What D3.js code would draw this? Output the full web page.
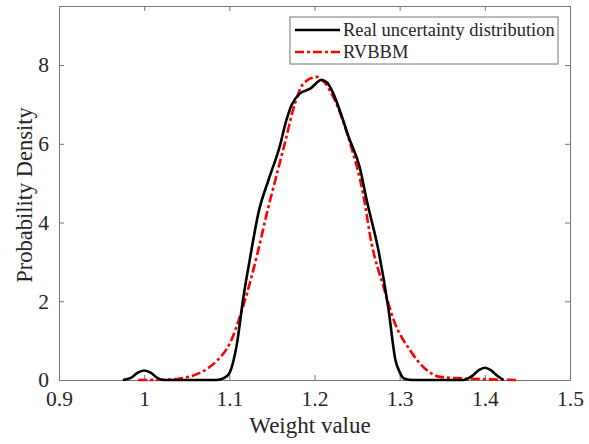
<!DOCTYPE html>
<html>
<head>
<meta charset="utf-8">
<script src="https://cdn.jsdelivr.net/npm/d3@7"></script>
<style>
  body { margin: 0; background: #fff; }
  svg { display: block; }
  svg text { font-family: "Liberation Serif", "Times New Roman", serif; }
</style>
</head>
<body>
<div id="plot"></div>
<script>
// data
const realX = [0.975, 0.985, 0.992, 1.0, 1.008, 1.015, 1.022, 1.085, 1.093, 1.1, 1.105, 1.109, 1.116, 1.126, 1.134,
  1.146, 1.159, 1.167, 1.173, 1.183, 1.195, 1.208, 1.215, 1.222, 1.232, 1.24, 1.253, 1.262, 1.275, 1.287, 1.295,
  1.3, 1.305, 1.316, 1.375, 1.385, 1.393, 1.4, 1.407, 1.415, 1.422];
const realY = [0, 0.06, 0.18, 0.24, 0.18, 0.06, 0, 0, 0.04, 0.17, 0.5, 0.93, 2.03, 3.3, 4.23,
  5.08, 5.92, 6.6, 6.98, 7.28, 7.4, 7.62, 7.55, 7.28, 6.7, 6.18, 5.41, 4.5, 3.3, 1.78, 0.51,
  0.2, 0.04, 0, 0, 0.1, 0.25, 0.31, 0.25, 0.1, 0];
const rvbbmX = [0.993, 1.02, 1.042, 1.062, 1.075, 1.085, 1.101, 1.116, 1.134, 1.144, 1.154, 1.165, 1.177, 1.187,
  1.2025, 1.212, 1.222, 1.242, 1.257, 1.267, 1.281, 1.293, 1.312, 1.332, 1.347, 1.375, 1.4, 1.439];
const rvbbmY = [0, 0.005, 0.04, 0.15, 0.3, 0.48, 0.95, 1.86, 3.3, 4.23, 5.08, 6.0, 7.02, 7.53,
  7.7, 7.55, 7.19, 6.0, 4.74, 3.47, 2.37, 1.52, 0.76, 0.25, 0.08, 0.04, 0.02, 0];
const xTicks = [0.9, 1, 1.1, 1.2, 1.3, 1.4, 1.5];
const yTicks = [0, 2, 4, 6, 8];
const seriesNames = ["Real uncertainty distribution", "RVBBM"];

const width = 589, height = 444;
const margin = {left: 59, right: 19, top: 6, bottom: 64};

const svg = d3.select("#plot").append("svg")
  .attr("width", width).attr("height", height);

const xScale = d3.scaleLinear().domain([0.9, 1.5]).range([margin.left, width - margin.right]);
const yScale = d3.scaleLinear().domain([0, 9.5]).range([height - margin.bottom, margin.top]);

const axisColor = "#777";
const textColor = "#262626";
const serif = "'Liberation Serif', 'Times New Roman', serif";

// axes: bottom/left with labels, top/right ticks only (box)
const gx = svg.append("g").attr("transform", `translate(0,${yScale(0)})`)
  .call(d3.axisBottom(xScale).tickValues(xTicks).tickSizeInner(-5).tickSizeOuter(0)
    .tickPadding(11).tickFormat(d3.format("")));
const gxTop = svg.append("g").attr("transform", `translate(0,${yScale(9.5)})`)
  .call(d3.axisTop(xScale).tickValues(xTicks).tickSizeInner(-5).tickSizeOuter(0).tickFormat(""));
const gy = svg.append("g").attr("transform", `translate(${xScale(0.9)},0)`)
  .call(d3.axisLeft(yScale).tickValues(yTicks).tickSizeInner(-5).tickSizeOuter(0).tickPadding(10));
const gyRight = svg.append("g").attr("transform", `translate(${xScale(1.5)},0)`)
  .call(d3.axisRight(yScale).tickValues(yTicks).tickSizeInner(-5).tickSizeOuter(0).tickFormat(""));

[gx, gxTop, gy, gyRight].forEach(g => {
  g.attr("font-family", serif).attr("font-size", 21.5);
  g.select(".domain").attr("stroke", axisColor).attr("stroke-width", 1);
  g.selectAll(".tick line").attr("stroke", axisColor);
  g.selectAll(".tick text").attr("fill", textColor);
});
gx.selectAll(".tick text").attr("dy", "0.71em");

// axis titles
svg.append("text")
  .attr("x", 310).attr("y", 433)
  .attr("text-anchor", "middle").attr("fill", textColor)
  .attr("font-family", serif).attr("font-size", 23).text("Weight value");
svg.append("text")
  .attr("transform", `translate(32,195) rotate(-90)`)
  .attr("text-anchor", "middle").attr("fill", textColor)
  .attr("font-family", serif).attr("font-size", 22.5).text("Probability Density");

// curves
const line = d3.line().curve(d3.curveMonotoneX)
  .x(d => xScale(d[0])).y(d => yScale(d[1]));

svg.append("path")
  .datum(rvbbmX.map((x, i) => [x, rvbbmY[i]]))
  .attr("fill", "none").attr("stroke", "#ff0000").attr("stroke-width", 2.6)
  .attr("stroke-dasharray", "9,3,3,3")
  .attr("d", line);

svg.append("path")
  .datum(realX.map((x, i) => [x, realY[i]]))
  .attr("fill", "none").attr("stroke", "#000").attr("stroke-width", 2.6)
  .attr("d", line);

// legend
const legend = svg.append("g").attr("transform", "translate(290,17)");
legend.append("rect")
  .attr("width", 268).attr("height", 47)
  .attr("fill", "#fff").attr("stroke", axisColor).attr("stroke-width", 1);
const legendStyles = [
  {color: "#000", dash: null},
  {color: "#ff0000", dash: "9,3,3,3"}
];
seriesNames.forEach((name, i) => {
  const yy = 13 + i * 22;
  legend.append("line")
    .attr("x1", 5).attr("x2", 50).attr("y1", yy).attr("y2", yy)
    .attr("stroke", legendStyles[i].color).attr("stroke-width", 2.6)
    .attr("stroke-dasharray", legendStyles[i].dash);
  legend.append("text")
    .attr("x", 53).attr("y", yy + 6)
    .attr("fill", textColor).attr("font-family", serif).attr("font-size", 18.5)
    .text(name);
});
</script>
</body>
</html>
